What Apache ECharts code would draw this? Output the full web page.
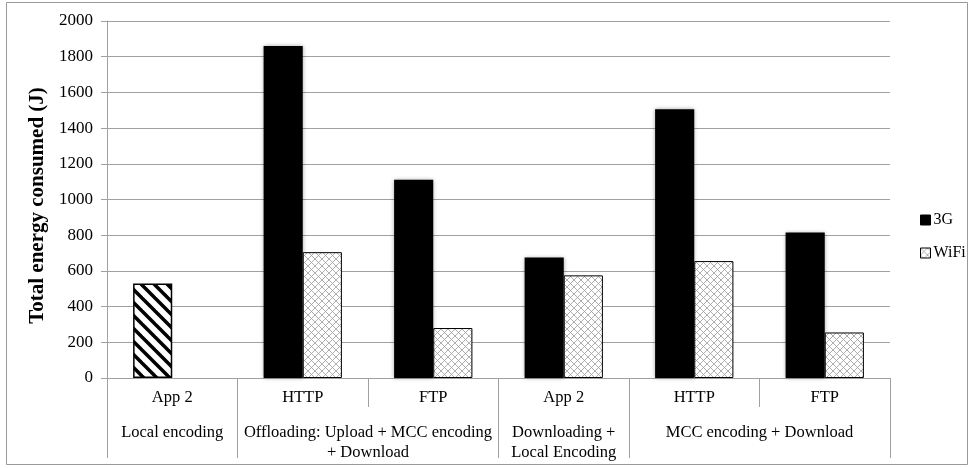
<!DOCTYPE html>
<html>
<head>
<meta charset="utf-8">
<script src="https://cdn.jsdelivr.net/npm/echarts@6/dist/echarts.min.js"></script>
<style>
  html, body { margin: 0; padding: 0; background: #fff; }
  #chart { width: 974px; height: 468px; }
</style>
</head>
<body>
<div id="chart"></div>
<script>
// Energy consumed per scenario, in joules
const categories = ['App 2', 'HTTP', 'FTP', 'App 2', 'HTTP', 'FTP'];
const groupNames = [
  'Local encoding',
  'Offloading: Upload + MCC encoding\n+ Download',
  'Downloading +\nLocal Encoding',
  'MCC encoding + Download'
];
const groupSizes = [1, 2, 1, 2];
const localValues = [530, null, null, null, null, null];
const values3G = [null, 1860, 1110, 675, 1505, 815];
const valuesWiFi = [null, 705, 280, 575, 655, 255];
const yMin = 0, yMax = 2000, yStep = 200;

const FONT = '"Liberation Serif", "Times New Roman", serif';
const GRID_GRAY = '#a0a0a0';

// group boundaries and centres on a 0..N scale
const bounds = [0];
groupSizes.forEach(n => bounds.push(bounds[bounds.length - 1] + n));
const centres = groupSizes.map((n, i) => bounds[i] + n / 2);

// diagonal black stripes for the local-encoding bar
function stripePattern() {
  const s = 13, c = document.createElement('canvas');
  c.width = s; c.height = s;
  const g = c.getContext('2d');
  g.fillStyle = '#fff'; g.fillRect(0, 0, s, s);
  g.strokeStyle = '#000'; g.lineWidth = 3.5;
  for (let k = -1; k <= 1; k++) {
    g.beginPath();
    g.moveTo(-2, -2 + k * s);
    g.lineTo(s + 2, s + 2 + k * s);
    g.stroke();
  }
  return { image: c, repeat: 'repeat' };
}

// light grey cross-hatch for WiFi
function crossPattern() {
  const s = 7, c = document.createElement('canvas');
  c.width = s; c.height = s;
  const g = c.getContext('2d');
  g.fillStyle = '#fff'; g.fillRect(0, 0, s, s);
  g.strokeStyle = '#9a9a9a'; g.lineWidth = 0.8;
  g.beginPath();
  g.moveTo(0, 0); g.lineTo(s, s);
  g.moveTo(s, 0); g.lineTo(0, s);
  g.stroke();
  return { image: c, repeat: 'repeat' };
}

const chart = echarts.init(document.getElementById('chart'));
chart.setOption({
  animation: false,
  backgroundColor: '#fff',
  textStyle: { fontFamily: FONT, color: '#000' },
  graphic: [{
    type: 'rect',
    shape: { x: 6.5, y: 2.5, width: 961, height: 462 },
    style: { fill: 'none', stroke: '#999', lineWidth: 1 },
    silent: true
  }],
  grid: { left: 107, right: 84, top: 21, bottom: 90, containLabel: false },
  legend: {
    data: ['3G', 'WiFi'],
    orient: 'vertical',
    left: 915,
    top: 207,
    itemWidth: 10,
    itemHeight: 10,
    itemGap: 17,
    icon: 'rect',
    itemStyle: { shadowBlur: 0, borderColor: '#000', borderWidth: 1 },
    textStyle: { fontFamily: FONT, fontSize: 16, color: '#000', padding: [0, 0, 0, -2] }
  },
  xAxis: [{
    type: 'category',
    data: categories,
    position: 'bottom',
    axisLine: { show: true, lineStyle: { color: GRID_GRAY, width: 1 } },
    axisTick: { show: true, length: 29, lineStyle: { color: GRID_GRAY } },
    axisLabel: { fontFamily: FONT, fontSize: 16.5, color: '#000', margin: 11 },
    splitLine: { show: false }
  }, {
    type: 'value',
    position: 'bottom',
    min: 0,
    max: categories.length,
    axisLine: { show: false },
    splitLine: { show: false },
    axisTick: {
      show: true, length: 80, customValues: bounds,
      lineStyle: { color: GRID_GRAY }
    },
    axisLabel: {
      customValues: centres,
      formatter: v => groupNames[centres.indexOf(v)] || '',
      fontFamily: FONT, fontSize: 16.5, color: '#000',
      lineHeight: 20, margin: 45, align: 'center'
    }
  }],
  yAxis: {
    type: 'value',
    min: yMin, max: yMax, interval: yStep,
    name: 'Total energy consumed (J)',
    nameLocation: 'middle',
    nameGap: 55,
    nameRotate: 90,
    nameTextStyle: { fontFamily: FONT, fontSize: 21, fontWeight: 'bold', color: '#000', padding: [0, 12, 0, 0] },
    axisLine: { show: true, lineStyle: { color: GRID_GRAY } },
    axisTick: { show: true, length: 6, lineStyle: { color: GRID_GRAY } },
    axisLabel: {
      fontFamily: FONT, fontSize: 17, color: '#000', margin: 14,
      formatter: v => String(v)
    },
    splitLine: { show: true, lineStyle: { color: GRID_GRAY, width: 1.2 } }
  },
  series: [{
    name: 'Local',
    type: 'bar',
    stack: 'a',
    xAxisIndex: 0,
    data: localValues,
    barCategoryGap: '40%',
    barGap: '0%',
    itemStyle: { color: stripePattern(), borderColor: '#000', borderWidth: 1.5 }
  }, {
    name: '3G',
    type: 'bar',
    stack: 'a',
    xAxisIndex: 0,
    data: values3G,
    barCategoryGap: '40%',
    barGap: '0%',
    itemStyle: { color: '#000', shadowBlur: 4, shadowColor: 'rgba(0,0,0,0.35)' }
  }, {
    name: 'WiFi',
    type: 'bar',
    xAxisIndex: 0,
    data: valuesWiFi,
    barCategoryGap: '40%',
    barGap: '0%',
    itemStyle: { color: crossPattern(), borderColor: '#000', borderWidth: 1 }
  }]
});
</script>
</body>
</html>
